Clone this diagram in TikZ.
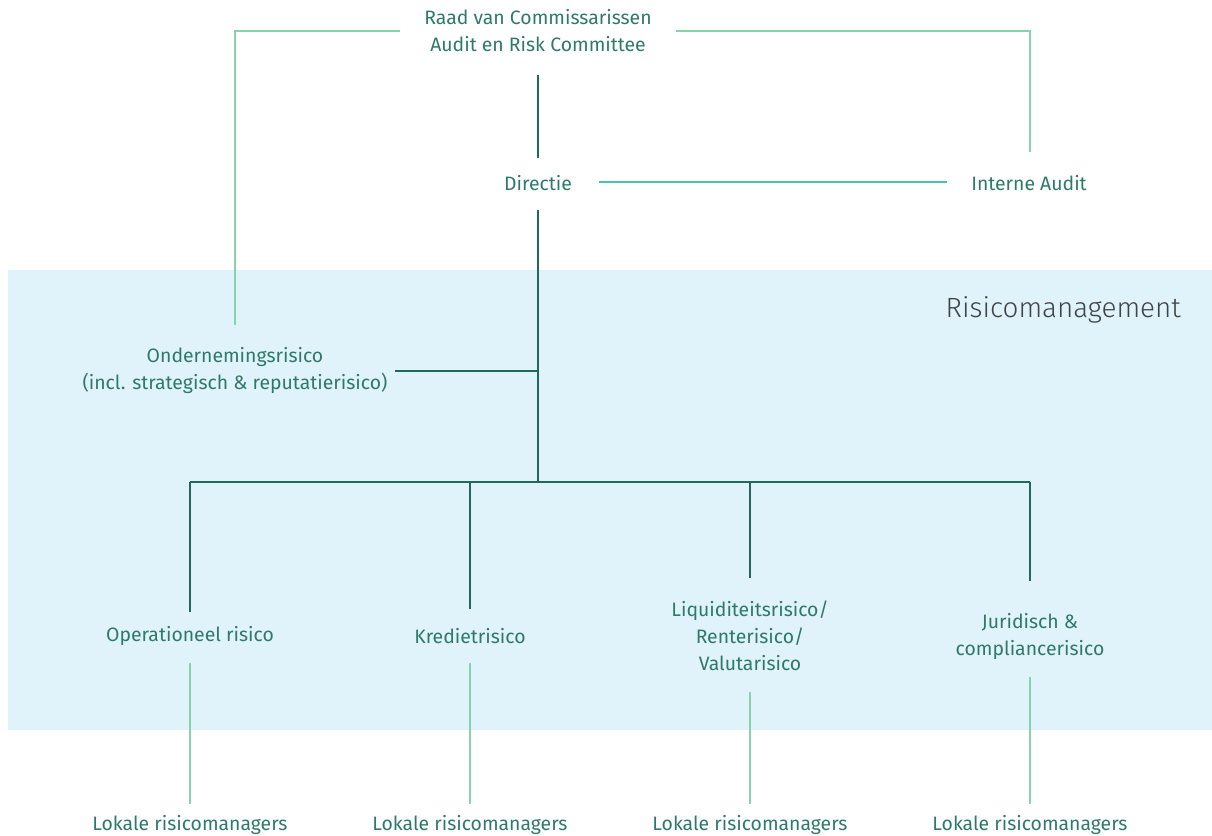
\documentclass[tikz,border=0pt]{standalone}
\usepackage{fontspec}
\setmainfont{Fira Sans}
\newfontfamily\lightfont{Fira Sans Light}
\begin{document}
\begin{tikzpicture}[x=1pt,y=-1pt,
  lbl/.style={text=txtgreen,font=\fontsize{19.4}{27}\selectfont,align=center,inner sep=0pt},
  darkline/.style={draw=darkgreen,line width=1.3pt},
  lightline/.style={draw=lightgreen,line width=1.1pt},
  tealline/.style={draw=tealgreen,line width=1.4pt}]
\definecolor{txtgreen}{HTML}{2E7A68}
\definecolor{darkgreen}{HTML}{1E6A5A}
\definecolor{lightgreen}{HTML}{86D4AE}
\definecolor{tealgreen}{HTML}{4CC3AC}
\definecolor{bgblue}{HTML}{E0F2FA}
\definecolor{graytxt}{HTML}{3E4446}
\useasboundingbox (0,0) rectangle (1212,835);
\fill[bgblue] (8,270) rectangle (1212,730);
\node[text=graytxt,font=\lightfont\fontsize{27.8}{30}\selectfont,anchor=east,inner sep=0pt] (rm) at (1181,310) {Risicomanagement};

\node[lbl] (rvc) at (538,31) {Raad van Commissarissen\\Audit en Risk Committee};
\node[lbl] (dir) at (538,183) {Directie};
\node[lbl] (ia) at (1029,183) {Interne Audit};
\node[lbl] (ond) at (235,370) {Ondernemingsrisico\\(incl. strategisch \& reputatierisico)};
\node[lbl] (op) at (190,636) {Operationeel risico};
\node[lbl] (kr) at (470,636) {Kredietrisico};
\node[lbl] (liq) at (750,636) {Liquiditeitsrisico/\\Renterisico/\\Valutarisico};
\node[lbl] (jur) at (1030,636) {Juridisch \&\\compliancerisico};
\node[lbl] (l1) at (190,825) {Lokale risicomanagers};
\node[lbl] (l2) at (470,825) {Lokale risicomanagers};
\node[lbl] (l3) at (750,825) {Lokale risicomanagers};
\node[lbl] (l4) at (1030,825) {Lokale risicomanagers};

% coordinates
\coordinate (rvcL) at (400,31);
\coordinate (rvcR) at (676,31);
\coordinate (rvcB) at (538,75);
\coordinate (cornerL) at (235,31);
\coordinate (ondT) at (235,325);
\coordinate (cornerR) at (1030,31);
\coordinate (iaT) at (1030,152);
\coordinate (dirT) at (538,158);
\coordinate (dirB) at (538,210);
\coordinate (dirR) at (599,182);
\coordinate (iaL) at (947,182);
\coordinate (ondR) at (395,371);
\coordinate (spineO) at (538,371);
\coordinate (hub) at (538,482);
\coordinate (hL) at (190,482);
\coordinate (hKr) at (470,482);
\coordinate (hLiq) at (750,482);
\coordinate (hR) at (1030,482);
\coordinate (opT) at (190,612);
\coordinate (krT) at (470,609);
\coordinate (liqT) at (750,578);
\coordinate (jurT) at (1030,581);
\coordinate (opB) at (190,663);
\coordinate (krB) at (470,663);
\coordinate (liqB) at (750,692);
\coordinate (jurB) at (1030,677);
\coordinate (l1T) at (190,804);
\coordinate (l2T) at (470,804);
\coordinate (l3T) at (750,804);
\coordinate (l4T) at (1030,804);

% light connectors from RvC
\draw[lightline] (rvcL) -- (cornerL) -- (ondT);
\draw[lightline] (rvcR) -- (cornerR) -- (iaT);
% dark spine
\draw[darkline] (rvcB) -- (dirT);
\draw[darkline] (dirB) -- (hub);
\draw[darkline] (ondR) -- (spineO);
\draw[darkline] (hL) -- (hR);
\draw[darkline] (hL) -- (opT);
\draw[darkline] (hKr) -- (krT);
\draw[darkline] (hLiq) -- (liqT);
\draw[darkline] (hR) -- (jurT);
% Directie - Interne Audit
\draw[tealline] (dirR) -- (iaL);
% local managers
\draw[lightline] (opB) -- (l1T);
\draw[lightline] (krB) -- (l2T);
\draw[lightline] (liqB) -- (l3T);
\draw[lightline] (jurB) -- (l4T);
\end{tikzpicture}
\end{document}
